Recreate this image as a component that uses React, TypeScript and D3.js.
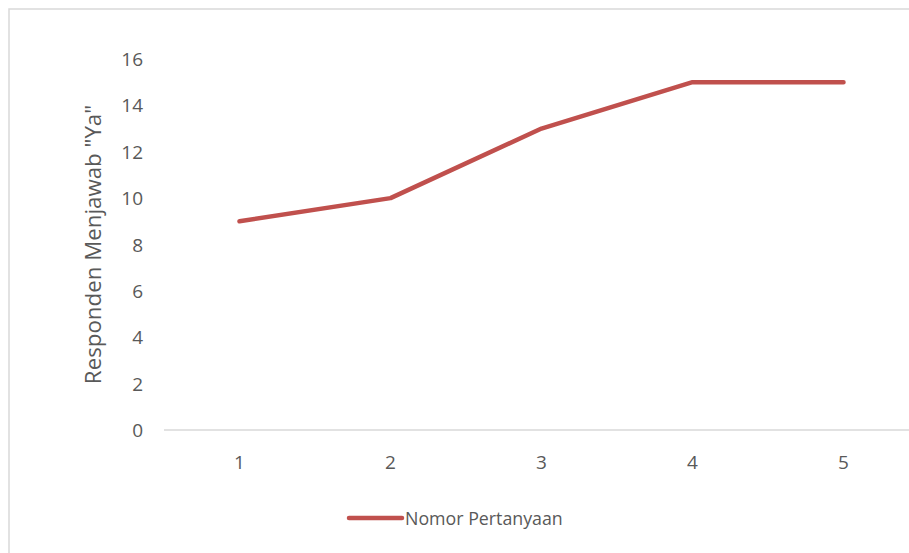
import React from "react";
import * as d3 from "d3";

const categories = ["1", "2", "3", "4", "5"];
const values = [9, 10, 13, 15, 15];
const yTicks = [0, 2, 4, 6, 8, 10, 12, 14, 16];
const seriesName = "Nomor Pertanyaan";
const yTitle = 'Responden Menjawab "Ya"';

const W = 909;
const H = 553;
const FONT = "'Open Sans', 'Liberation Sans', sans-serif";

export default function App() {
  const left = 164;
  const bandW = 151;
  const x = d3
    .scaleBand<string>()
    .domain(categories)
    .range([left, left + bandW * categories.length]);
  const y = d3.scaleLinear().domain([0, 16]).range([430, 59]);
  const line = d3
    .line<number>()
    .x((_, i) => (x(categories[i]) as number) + x.bandwidth() / 2)
    .y((d) => y(d));

  return (
    <svg
      width={W}
      height={H}
      style={{ position: "absolute", left: 0, top: 0, fontFamily: FONT }}
    >
      <rect x={0} y={0} width={W} height={H} fill="#fff" />
      <rect x={9} y={9} width={W + 20} height={H + 20} fill="#fff" stroke="#d9d9d9" strokeWidth={1.5} />
      {yTicks.map((t) => (
        <text
          key={t}
          x={143}
          y={y(t)}
          textAnchor="end"
          dominantBaseline="central"
          fontSize={19}
          fill="#595959"
        >
          {t}
        </text>
      ))}
      <line x1={left} x2={W} y1={y(0)} y2={y(0)} stroke="#d9d9d9" strokeWidth={1.5} />
      {categories.map((c) => (
        <text
          key={c}
          x={(x(c) as number) + x.bandwidth() / 2}
          y={462}
          textAnchor="middle"
          dominantBaseline="central"
          fontSize={19}
          fill="#595959"
        >
          {c}
        </text>
      ))}
      <text
        transform={`translate(92, 244.5) rotate(-90)`}
        textAnchor="middle"
        dominantBaseline="central"
        fontSize={22.3}
        fill="#595959"
      >
        {yTitle}
      </text>
      <path
        d={line(values) || ""}
        fill="none"
        stroke="#c0504d"
        strokeWidth={4.5}
        strokeLinecap="round"
        strokeLinejoin="round"
      />
      <line x1={349} x2={402} y1={518} y2={518} stroke="#c0504d" strokeWidth={4.5} strokeLinecap="round" />
      <text x={405} y={518} dominantBaseline="central" fontSize={17.8} fill="#595959">
        {seriesName}
      </text>
    </svg>
  );
}
